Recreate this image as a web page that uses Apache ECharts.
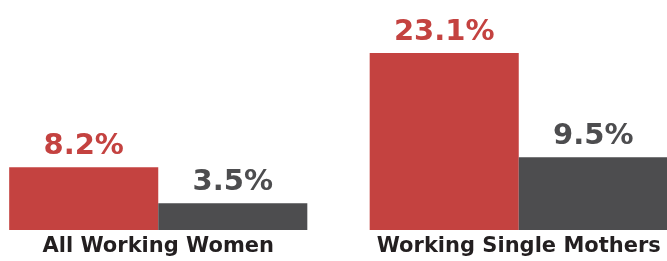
<!DOCTYPE html>
<html>
<head>
<meta charset="utf-8">
<script src="https://cdn.jsdelivr.net/npm/echarts@6/dist/echarts.min.js"></script>
<style>
html, body { margin: 0; padding: 0; background: #fff; }
#chart { width: 667px; height: 261px; }
</style>
</head>
<body>
<div id="chart"></div>
<script>
var categories = ['All Working Women', 'Working Single Mothers'];
var redValues = [8.2, 23.1];
var grayValues = [3.5, 9.5];

var RED = '#c44240';
var GRAY = '#4d4d4f';
var FONT = 'DejaVu Sans';

function labelFor(color) {
    return {
        show: true,
        position: 'top',
        distance: 6,
        color: color,
        fontFamily: FONT,
        fontWeight: 'bold',
        fontSize: 29,
        formatter: function (p) { return p.value.toFixed(1) + '%'; }
    };
}

var chart = echarts.init(document.getElementById('chart'));
chart.setOption({
    animation: false,
    grid: {
        left: -22, right: -32, top: 0, bottom: 31,
        containLabel: false,
        outerBoundsMode: 'none'
    },
    xAxis: {
        type: 'category',
        data: categories,
        axisLine: { show: false },
        axisTick: { show: false },
        axisLabel: {
            margin: 6,
            color: '#231f20',
            fontFamily: FONT,
            fontWeight: 'bold',
            fontSize: 21,
            interval: 0
        }
    },
    yAxis: {
        type: 'value',
        min: 0,
        max: 30,
        show: false,
        splitLine: { show: false }
    },
    series: [
        {
            type: 'bar',
            data: redValues,
            barGap: '0%',
            barCategoryGap: '17.3%',
            itemStyle: { color: RED },
            label: labelFor(RED)
        },
        {
            type: 'bar',
            data: grayValues,
            itemStyle: { color: GRAY },
            label: labelFor(GRAY)
        }
    ]
});
</script>
</body>
</html>
